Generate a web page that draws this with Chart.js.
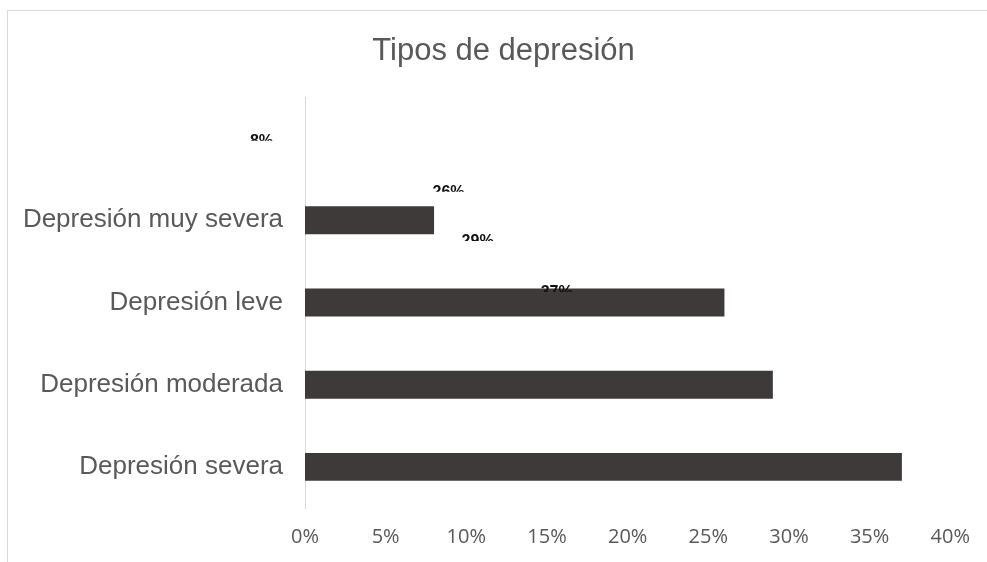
<!DOCTYPE html>
<html lang="es">
<head>
<meta charset="utf-8">
<title>Tipos de depresión</title>
<script src="https://cdn.jsdelivr.net/npm/chart.js@4/dist/chart.umd.min.js"></script>
<style>
	html, body { margin: 0; padding: 0; background: #fff; overflow: hidden; }
	#contGrafico { position: relative; width: 987px; height: 562px; }
	#marco {
		position: absolute; left: 7px; top: 10px; right: -5px; bottom: -5px;
		border-left: 1px solid #d9d9d9; border-top: 1px solid #d9d9d9;
		pointer-events: none;
	}
</style>
</head>
<body>
<div id="contGrafico">
	<canvas id="graficoDepresion" width="987" height="562"></canvas>
	<div id="marco"></div>
</div>
<script>
//Datos
const titulo = "Tipos de depresión";
const categorias = ["", "Depresión muy severa", "Depresión leve", "Depresión moderada", "Depresión severa"];
const porcentajes = [null, 8, 26, 29, 37];
const etiquetasDatos = ["8%", "26%", "29%", "37%"];

//Titulo (centrado sobre el marco, no sobre el area del grafico)
const tituloDesplazado = {
	id: 'tituloDesplazado',
	afterDraw(chart) {
		const ctx = chart.ctx;
		ctx.save();
		ctx.font = '31px "Liberation Sans", Arial, sans-serif';
		ctx.fillStyle = '#595959';
		ctx.textAlign = 'center';
		ctx.textBaseline = 'middle';
		ctx.fillText(titulo, chart.width / 2 + 10, 51);
		ctx.restore();
	}
};

//Etiquetas de datos desplazadas y cortadas (como en la imagen original)
const etiquetasMovidas = {
	id: 'etiquetasMovidas',
	afterDatasetsDraw(chart) {
		const ctx = chart.ctx;
		const x = chart.scales.x;
		const y = chart.scales.y;
		// posicion en unidades de los ejes: [valor en %, indice de categoria]
		const sitios = [[-2.7, 0.02], [8.9, 0.64], [10.7, 1.24], [15.6, 1.86]];
		ctx.save();
		ctx.font = 'bold 16px "Liberation Sans", Arial, sans-serif';
		ctx.fillStyle = '#111';
		ctx.textAlign = 'center';
		ctx.textBaseline = 'top';
		etiquetasDatos.forEach((txt, i) => {
			const px = x.getPixelForValue(sitios[i][0]);
			const py = y.getPixelForValue(sitios[i][1]);
			ctx.save();
			ctx.beginPath();
			ctx.rect(px - 30, py - 6, 60, 7);
			ctx.clip();
			ctx.fillText(txt, px, py - 6);
			ctx.restore();
		});
		ctx.restore();
	}
};

new Chart(document.getElementById("graficoDepresion"), {
	type: "bar",
	data: {
		labels: categorias,
		datasets: [{
			label: titulo,
			data: porcentajes,
			backgroundColor: "#3e3a39",
			barPercentage: 0.34,
			categoryPercentage: 1
		}]
	},
	options: {
		indexAxis: 'y',
		responsive: false,
		animation: false,
		devicePixelRatio: 1,
		layout: { padding: { left: 0, right: 36, top: 97, bottom: 0 } },
		plugins: {
			legend: { display: false },
			tooltip: { enabled: false },
			title: { display: false }
		},
		scales: {
			x: {
				min: 0,
				max: 40,
				grid: { display: false, drawTicks: false },
				border: { display: false },
				ticks: {
					stepSize: 5,
					callback: v => v + "%",
					color: "#595959",
					font: { family: '"Open Sans", sans-serif', size: 20 },
					padding: 17,
					maxRotation: 0
				},
				afterFit: s => { s.height = 54; }
			},
			y: {
				grid: { display: true, drawOnChartArea: false, drawTicks: false },
				border: { display: true, color: "#d9d9d9", width: 1 },
				ticks: {
					color: "#595959",
					font: { family: '"Liberation Sans", Arial, sans-serif', size: 26 },
					padding: 22,
					autoSkip: false
				},
				afterFit: s => { s.width = 305; }
			}
		}
	},
	plugins: [etiquetasMovidas, tituloDesplazado]
});
</script>
</body>
</html>
